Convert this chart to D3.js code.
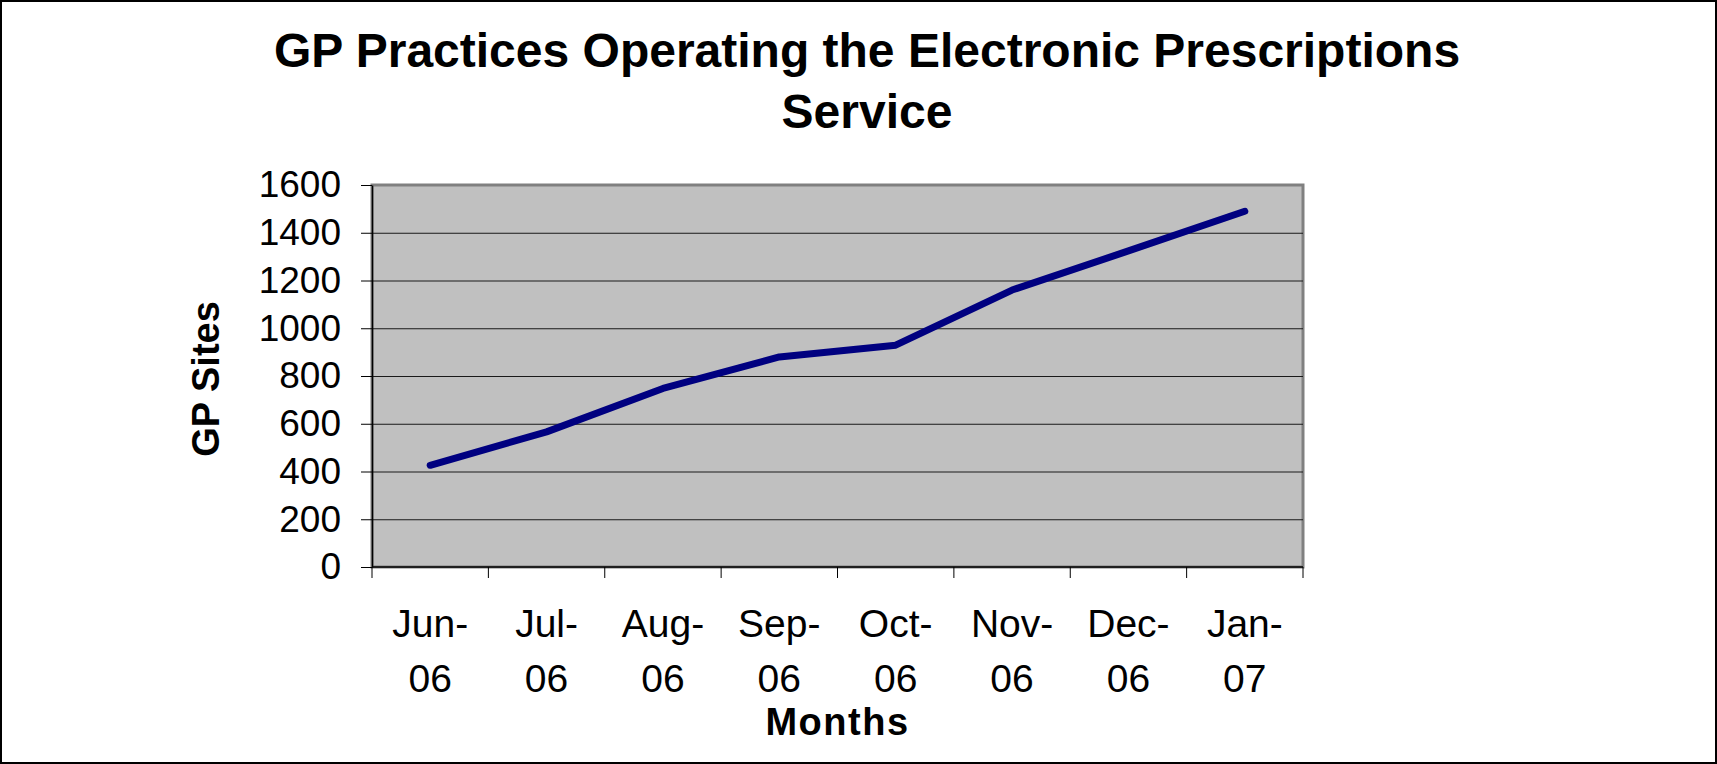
<!DOCTYPE html>
<html>
<head>
<meta charset="utf-8">
<script src="https://cdn.jsdelivr.net/npm/d3@7"></script>
<style>
body { margin: 0; background: #fff; }
svg { display: block; font-family: "Liberation Sans", Arial, sans-serif; }
.grid line { stroke: #1a1a1a; stroke-width: 1; }
.grid path { display: none; }
</style>
</head>
<body>
<svg width="1717" height="764"></svg>
<script>
var months = ["Jun-06", "Jul-06", "Aug-06", "Sep-06", "Oct-06", "Nov-06", "Dec-06", "Jan-07"];
var gpSites = [426, 566, 748, 880, 929, 1160, 1324, 1490];
var yTicks = [0, 200, 400, 600, 800, 1000, 1200, 1400, 1600];

var svg = d3.select("svg"),
    width = +svg.attr("width"),
    height = +svg.attr("height");

var plot = {left: 372, right: 1303, top: 185, bottom: 567};

var x = d3.scaleBand()
    .domain(months)
    .range([plot.left, plot.right])
    .padding(0);

var y = d3.scaleLinear()
    .domain([0, 1600])
    .range([plot.bottom, plot.top]);

// outer frame
svg.append("rect")
    .attr("x", 1).attr("y", 1)
    .attr("width", width - 2).attr("height", height - 2)
    .attr("fill", "#fff")
    .attr("stroke", "#000")
    .attr("stroke-width", 2);

// title
var title = svg.append("text")
    .attr("text-anchor", "middle")
    .attr("font-weight", "bold")
    .attr("font-size", 48);
title.append("tspan").attr("x", 867).attr("y", 67).text("GP Practices Operating the Electronic Prescriptions");
title.append("tspan").attr("x", 867).attr("y", 128).text("Service");

// plot area
svg.append("rect")
    .attr("x", plot.left).attr("y", plot.top)
    .attr("width", plot.right - plot.left)
    .attr("height", plot.bottom - plot.top)
    .attr("fill", "#c0c0c0")
    .attr("stroke", "#808080")
    .attr("stroke-width", 3);

// gridlines
svg.append("g")
    .attr("class", "grid")
    .attr("transform", "translate(" + plot.left + ",0)")
    .call(d3.axisRight(y).tickValues(yTicks.slice(1, -1)).tickSize(plot.right - plot.left).tickFormat(""));

// y axis
var yAxis = svg.append("g")
    .attr("transform", "translate(" + plot.left + ",0)")
    .call(d3.axisLeft(y).tickValues(yTicks).tickFormat(d3.format("d"))
        .tickSize(11).tickPadding(20).tickSizeOuter(0));
yAxis.select(".domain").attr("stroke", "#000").attr("stroke-width", 1.5);
yAxis.selectAll(".tick line").attr("stroke", "#000");
yAxis.selectAll(".tick text")
    .attr("font-size", 37)
    .attr("font-family", "Liberation Sans, Arial, sans-serif")
    .attr("fill", "#000");

// x axis: ticks on category boundaries
var xAxis = svg.append("g")
    .attr("transform", "translate(0," + plot.bottom + ")");
xAxis.append("line")
    .attr("x1", plot.left).attr("x2", plot.right)
    .attr("stroke", "#000").attr("stroke-width", 1.5);
xAxis.selectAll(".xtick")
    .data(months.concat(["end"]))
    .enter().append("line")
    .attr("class", "xtick")
    .attr("x1", function(d) { return d === "end" ? x.range()[1] : x(d); })
    .attr("x2", function(d) { return d === "end" ? x.range()[1] : x(d); })
    .attr("y1", 0).attr("y2", 11)
    .attr("stroke", "#000");

var xLabels = xAxis.selectAll(".xlabel")
    .data(months)
    .enter().append("text")
    .attr("class", "xlabel")
    .attr("text-anchor", "middle")
    .attr("font-size", 39);
xLabels.append("tspan")
    .attr("x", function(d) { return x(d) + x.bandwidth() / 2; })
    .attr("y", 70)
    .text(function(d) { return d.split("-")[0] + "-"; });
xLabels.append("tspan")
    .attr("x", function(d) { return x(d) + x.bandwidth() / 2; })
    .attr("y", 125)
    .text(function(d) { return d.split("-")[1]; });

// series line
var line = d3.line()
    .x(function(d, i) { return x(months[i]) + x.bandwidth() / 2; })
    .y(function(d) { return y(d); });

svg.append("path")
    .datum(gpSites)
    .attr("d", line)
    .attr("fill", "none")
    .attr("stroke", "#000080")
    .attr("stroke-width", 7)
    .attr("stroke-linecap", "round")
    .attr("stroke-linejoin", "round");

// axis titles
svg.append("text")
    .attr("x", (plot.left + plot.right) / 2)
    .attr("y", 735)
    .attr("text-anchor", "middle")
    .attr("font-weight", "bold")
    .attr("font-size", 38)
    .attr("letter-spacing", 1.5)
    .text("Months");

svg.append("text")
    .attr("transform", "translate(219," + ((plot.top + plot.bottom) / 2 + 3) + ") rotate(-90)")
    .attr("text-anchor", "middle")
    .attr("font-weight", "bold")
    .attr("font-size", 38)
    .text("GP Sites");
</script>
</body>
</html>
